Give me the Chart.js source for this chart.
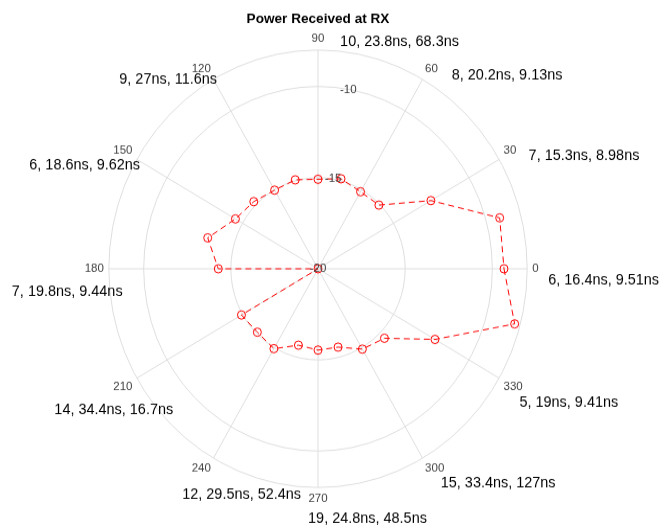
<!DOCTYPE html>
<html>
<head>
<meta charset="utf-8">
<title>Power Received at RX</title>
<script src="https://cdn.jsdelivr.net/npm/chart.js@4/dist/chart.umd.min.js"></script>
<style>
  html, body { margin: 0; padding: 0; background: #fff; }
  #page { width: 661px; height: 526px; overflow: hidden; }
  /* the plot is a little taller than wide, so stretch the canvas vertically */
  #wrap { width: 661px; height: 503px; transform: scaleY(1.045726); transform-origin: 0 0; }
  #polar { display: block; }
</style>
</head>
<body>
<div id="page"><div id="wrap"><canvas id="polar" width="661" height="503"></canvas></div></div>
<script>
'use strict';

// received power (dB) per azimuth, 0..345 deg every 15 deg
const thetaDeg = [0, 15, 30, 45, 60, 75, 90, 105, 120, 135, 150, 165,
                  180, 195, 210, 225, 240, 255, 270, 285, 300, 315, 330, 345];
const powerDb = [-9.33, -9.21, -12.52, -15.06, -15.12, -14.89, -15.09, -14.95, -15.02, -14.79, -14.53, -13.45,
                 -14.28, -20, -14.93, -15.08, -14.94, -15.66, -15.54, -15.55, -14.91, -14.61, -12.25, -8.32];

// r axis
const rMin = -20;
const rMax = -8;
const rGrid = [-20, -15, -10, -8];
const rTickLabels = [-20, -15, -10];
const rTickAngle = 80;

// per 30 deg sector: paths, mean delay (ns), rms delay spread (ns)
const sectorDeg = [0, 30, 60, 90, 120, 150, 180, 210, 240, 270, 300, 330];
const pathCount = [6, 7, 8, 10, 9, 6, 7, 14, 12, 19, 15, 5];
const meanDelay = [16.4, 15.3, 20.2, 23.8, 27, 18.6, 19.8, 34.4, 29.5, 24.8, 33.4, 19];
const rmsSpread = [9.51, 8.98, 9.13, 68.3, 11.6, 9.62, 9.44, 16.7, 52.4, 48.5, 127, 9.41];

// where each sector note sits: [angle deg, radius above rMin]
const notePos = [[357.8, 16.40], [22.1, 16.47], [44.4, 15.18], [69.4, 13.29], [129.7, 13.46], [157.0, 14.54],
                 [184.96, 14.44], [213.5, 14.05], [250.5, 13.12], [281.7, 14.00], [311.3, 15.66], [333.0, 16.15]];

const FONT = '"Liberation Sans", Arial, Helvetica, sans-serif';
Chart.defaults.font.family = FONT;

// radar goes clockwise from startAngle, polar angles go counter-clockwise
const order = thetaDeg.map((t, i) => (thetaDeg.length - i) % thetaDeg.length);
const labels = order.map(i => thetaDeg[i]);
const values = order.map(i => powerDb[i]);

const gridColor = '#dedede';
const axisText = '#404040';

const notes = {
  id: 'notes',
  afterDraw(chart) {
    const r = chart.scales.r;
    const ctx = chart.ctx;
    ctx.save();
    ctx.textAlign = 'center';
    ctx.textBaseline = 'middle';

    ctx.font = '11.5px ' + FONT;
    ctx.fillStyle = axisText;
    const ta = rTickAngle * Math.PI / 180;
    rTickLabels.forEach(v => {
      const d = r.getDistanceFromCenterForValue(v);
      ctx.fillText(String(v), r.xCenter + d * Math.cos(ta), r.yCenter - d * Math.sin(ta));
    });

    ctx.font = '14.45px ' + FONT;
    ctx.fillStyle = '#000';
    sectorDeg.forEach((s, i) => {
      const a = notePos[i][0] * Math.PI / 180;
      const d = r.getDistanceFromCenterForValue(rMin + notePos[i][1]);
      const txt = pathCount[i] + ', ' + meanDelay[i] + 'ns, ' + rmsSpread[i] + 'ns';
      ctx.fillText(txt, r.xCenter + d * Math.cos(a), r.yCenter - d * Math.sin(a));
    });
    ctx.restore();
  }
};

const ctx = document.getElementById('polar').getContext('2d');
const chart = new Chart(ctx, {
  type: 'radar',
  data: {
    labels: labels,
    datasets: [{
      data: values,
      borderColor: '#ff0000',
      borderWidth: 1,
      borderDash: [6, 4],
      fill: false,
      tension: 0,
      pointRadius: 4,
      pointBorderWidth: 1,
      pointBorderColor: '#ff0000',
      pointBackgroundColor: 'rgba(0,0,0,0)'
    }]
  },
  options: {
    responsive: false,
    animation: false,
    layout: { padding: { top: 0, left: 0, right: 25, bottom: 20.32 } },
    plugins: {
      legend: { display: false },
      tooltip: { enabled: false },
      title: {
        display: true,
        text: 'Power Received at RX',
        color: '#000',
        font: { size: 13.6, weight: 'bold', family: FONT },
        padding: { top: 10, bottom: 5 }
      }
    },
    scales: {
      r: {
        min: rMin,
        max: rMax,
        startAngle: 90,
        afterBuildTicks: s => { s.ticks = rGrid.map(v => ({ value: v })); },
        ticks: { display: false },
        grid: { circular: true, color: gridColor, lineWidth: 1 },
        angleLines: {
          color: gridColor,
          lineWidth: c => (labels[c.index] % 30 === 0 ? 1 : 0)
        },
        pointLabels: {
          display: true,
          padding: 5,
          color: axisText,
          font: { size: 11.5, lineHeight: 1, family: FONT },
          callback: v => (v % 30 === 0 ? String(v) : '')
        }
      }
    }
  },
  plugins: [notes]
});
</script>
</body>
</html>
